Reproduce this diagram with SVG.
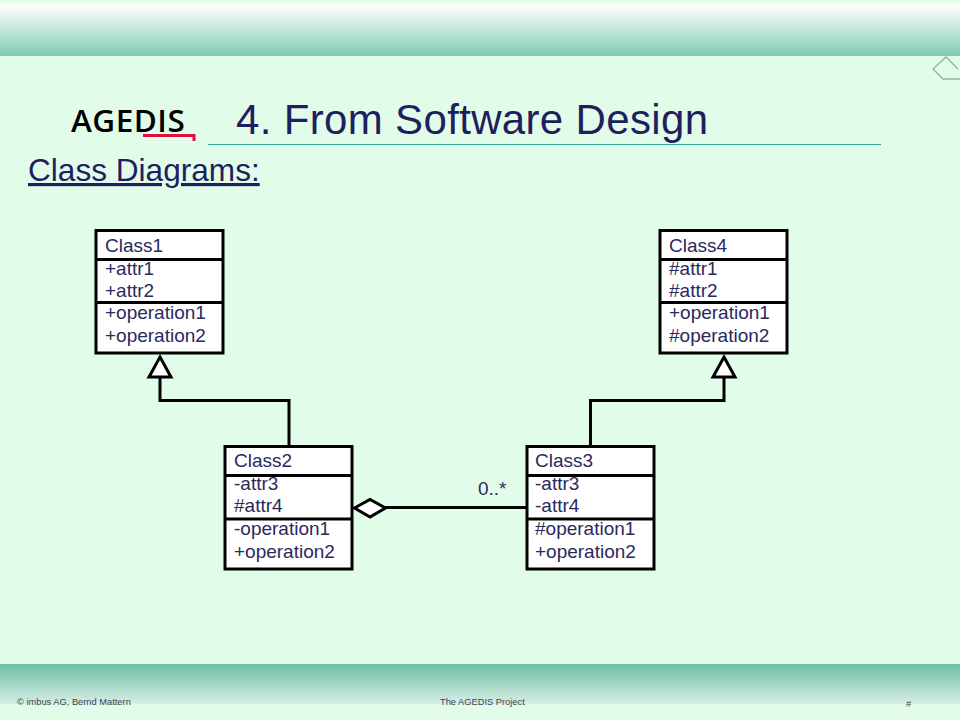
<svg xmlns="http://www.w3.org/2000/svg" width="960" height="720" viewBox="0 0 960 720">
<style>
text{font-family:"Liberation Sans",Arial,sans-serif;fill:#1f1f5f}
.t{font-size:19px;fill:#2a2a5c}
.box{fill:#fff;stroke:#000;stroke-width:3}
.div{stroke:#000;stroke-width:3;fill:none}
.foot{font-size:9.300px;fill:#3a4450}
.conn{fill:none;stroke:#000;stroke-width:3}
.head{fill:#fff;stroke:#000;stroke-width:3}
</style>
<defs>
<linearGradient id="top" x1="0" y1="0" x2="0" y2="1"><stop offset="0" stop-color="#fbfdfc"/><stop offset="0.12" stop-color="#f6fbf9"/><stop offset="1" stop-color="#7fcbb0"/></linearGradient>
<linearGradient id="bot" x1="0" y1="0" x2="0" y2="1"><stop offset="0" stop-color="#6dbfa3"/><stop offset="1" stop-color="#d8eee6"/></linearGradient>
</defs>
<rect width="960" height="720" fill="#e1fce9"/>
<rect y="3" width="960" height="53" fill="url(#top)"/>
<rect y="664" width="960" height="40" fill="url(#bot)"/>
<path d="M960 79H943L933 69L946 57L958 69" fill="none" stroke="#86b8a4" stroke-width="1.300"/>
<line x1="208" y1="144.500" x2="881" y2="144.500" stroke="#2fa596" stroke-width="1"/>
<text x="71" y="132" style="font-family:'Open Sans','Noto Sans',sans-serif;font-size:31.500px;font-weight:600;letter-spacing:.5px;fill:#000">AGEDIS</text>
<path d="M143 135.500H194V141" fill="none" stroke="#e0103c" stroke-width="3"/>
<text x="236" y="134" font-size="42" textLength="472">4. From Software Design</text>
<text x="28" y="181" font-size="31.600" text-decoration="underline">Class Diagrams:</text>
<g id="connectors">
<path class="conn" d="M160 377V400.500H289V446"/>
<path class="head" d="M160 357L171 377H149Z"/>
<path class="conn" d="M590.500 446V400.500H724V377"/>
<path class="head" d="M724 357L735 377H713Z"/>
<path class="conn" d="M385 507.500H526"/>
<path class="head" d="M354.500 508L370 499.500L385.500 508L370 517Z"/>
</g>
<text class="t" x="478" y="495">0..*</text>
<g id="class1">
<rect class="box" x="96" y="230.500" width="127" height="122.500"/>
<path class="div" d="M96 259.500H223M96 302.500H223"/>
<text class="t" x="105" y="252">Class1</text>
<text class="t" x="105" y="275">+attr1</text>
<text class="t" x="105" y="297">+attr2</text>
<text class="t" x="105" y="319">+operation1</text>
<text class="t" x="105" y="342">+operation2</text>
</g>
<g id="class4">
<rect class="box" x="660" y="230.500" width="127" height="122.500"/>
<path class="div" d="M660 259.500H787M660 302.500H787"/>
<text class="t" x="669" y="252">Class4</text>
<text class="t" x="669" y="275">#attr1</text>
<text class="t" x="669" y="297">#attr2</text>
<text class="t" x="669" y="319">+operation1</text>
<text class="t" x="669" y="342">#operation2</text>
</g>
<g id="class2">
<rect class="box" x="225" y="446.500" width="127" height="122.500"/>
<path class="div" d="M225 475.500H352M225 519H352"/>
<text class="t" x="234" y="467">Class2</text>
<text class="t" x="234" y="490">-attr3</text>
<text class="t" x="234" y="512">#attr4</text>
<text class="t" x="234" y="535">-operation1</text>
<text class="t" x="234" y="558">+operation2</text>
</g>
<g id="class3">
<rect class="box" x="527" y="446.500" width="127" height="122.500"/>
<path class="div" d="M527 475.500H654M527 519H654"/>
<text class="t" x="535" y="467">Class3</text>
<text class="t" x="535" y="490">-attr3</text>
<text class="t" x="535" y="512">-attr4</text>
<text class="t" x="535" y="535">#operation1</text>
<text class="t" x="535" y="558">+operation2</text>
</g>
<text class="foot" x="17" y="705">© imbus AG, Bernd Mattern</text>
<text class="foot" x="440" y="705">The AGEDIS Project</text>
<text class="foot" x="906" y="707">#</text>
</svg>
